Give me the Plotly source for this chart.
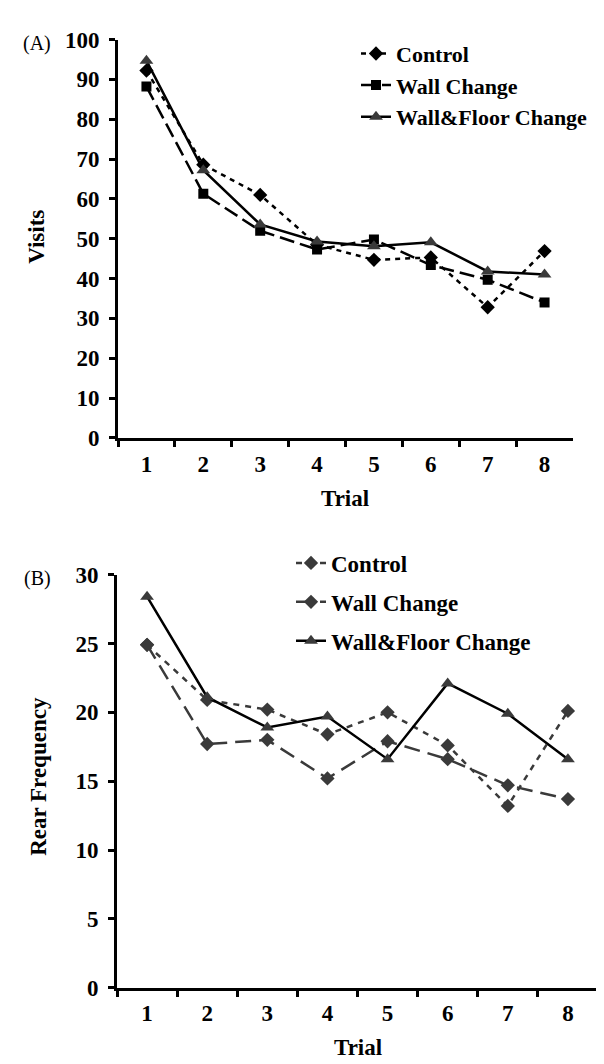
import plotly.graph_objects as go

W, H = 604, 1064

trials = ["1", "2", "3", "4", "5", "6", "7", "8"]

# Panel A: Visits
visits_control = [92.2, 68.6, 61.0, 48.5, 44.7, 45.3, 32.8, 46.9]
visits_wall = [88.2, 61.3, 52.0, 47.3, 49.8, 43.4, 39.7, 34.0]
visits_wallfloor = [94.7, 67.2, 53.6, 49.3, 48.1, 49.1, 41.8, 41.0]

# Panel B: Rear Frequency
rear_control = [24.9, 20.9, 20.2, 18.4, 20.0, 17.6, 13.2, 20.1]
rear_wall = [24.9, 17.7, 18.0, 15.2, 17.9, 16.6, 14.7, 13.7]
rear_wallfloor = [28.4, 21.1, 18.9, 19.7, 16.6, 22.1, 19.9, 16.6]

series_names = ["Control", "Wall Change", "Wall&Floor Change"]
visits_ticks = list(range(0, 101, 10))
rear_ticks = list(range(0, 31, 5))

FONT = "Liberation Serif"


def px_x(p):
    return p / W


def px_y(p):
    return 1 - p / H


fig = go.Figure()

# Panel A traces
fig.add_trace(go.Scatter(
    x=trials, y=visits_control, name=series_names[0], mode="lines+markers",
    line=dict(color="black", width=2.5, dash="5px,5px"),
    marker=dict(symbol="diamond", size=11, color="black"),
    xaxis="x", yaxis="y", legend="legend", legendgroup="a1"))
fig.add_trace(go.Scatter(
    x=trials, y=visits_wall, name=series_names[1], mode="lines+markers",
    line=dict(color="black", width=2.5, dash="15px,6px"),
    marker=dict(symbol="square", size=10, color="black"),
    xaxis="x", yaxis="y", legend="legend", legendgroup="a2"))
fig.add_trace(go.Scatter(
    x=trials, y=visits_wallfloor, name=series_names[2], mode="lines+markers",
    line=dict(color="black", width=2.5),
    marker=dict(symbol="triangle-up", size=12, color="#3a3a3a"),
    xaxis="x", yaxis="y", legend="legend", legendgroup="a3"))

# Panel B traces
fig.add_trace(go.Scatter(
    x=trials, y=rear_control, name=series_names[0], mode="lines+markers",
    line=dict(color="#3a3a3a", width=2.5, dash="6px,6px"),
    marker=dict(symbol="diamond", size=11, color="#3a3a3a"),
    xaxis="x2", yaxis="y2", legend="legend2", legendgroup="b1"))
fig.add_trace(go.Scatter(
    x=trials, y=rear_wall, name=series_names[1], mode="lines+markers",
    line=dict(color="#3a3a3a", width=2.5, dash="16px,8px"),
    marker=dict(symbol="diamond", size=11, color="#3a3a3a"),
    xaxis="x2", yaxis="y2", legend="legend2", legendgroup="b2"))
fig.add_trace(go.Scatter(
    x=trials, y=rear_wallfloor, name=series_names[2], mode="lines+markers",
    line=dict(color="black", width=2.5),
    marker=dict(symbol="triangle-up", size=12, color="#3a3a3a"),
    xaxis="x2", yaxis="y2", legend="legend2", legendgroup="b3"))

tickfont = dict(family=FONT, size=23, color="black", weight="bold")

xcommon = dict(
    type="category", categoryorder="array", categoryarray=trials,
    range=[-0.5, 7.5], tickson="boundaries", ticks="outside", ticklen=6,
    tickwidth=3, tickcolor="black", showline=True, linewidth=3,
    linecolor="black", showgrid=False, zeroline=False, tickfont=tickfont,
    fixedrange=True, ticklabelstandoff=3)
ycommon = dict(
    ticks="outside", ticklen=6, tickwidth=3, tickcolor="black",
    showline=True, linewidth=3, linecolor="black", showgrid=False,
    zeroline=False, tickfont=tickfont, fixedrange=True, ticklabelstandoff=5)

legfont_a = dict(family=FONT, size=22, color="black", weight="bold")
legfont_b = dict(family=FONT, size=23, color="black", weight="bold")

fig.update_layout(
    width=W, height=H, autosize=False,
    margin=dict(l=0, r=0, t=0, b=0),
    paper_bgcolor="white", plot_bgcolor="white",
    xaxis=dict(domain=[px_x(110), px_x(565)], anchor="y", **xcommon),
    yaxis=dict(domain=[px_y(428), px_y(20)], anchor="x", range=[0, 100],
               tickvals=visits_ticks, **ycommon),
    xaxis2=dict(domain=[px_x(109), px_x(590)], anchor="y2", **xcommon),
    yaxis2=dict(domain=[px_y(991), px_y(568)], anchor="x2", range=[0, 30],
                tickvals=rear_ticks, **ycommon),
    legend=dict(x=px_x(348), y=px_y(13), xanchor="left", yanchor="top",
                bgcolor="rgba(0,0,0,0)", tracegroupgap=0, font=legfont_a),
    legend2=dict(x=px_x(283), y=px_y(534), xanchor="left", yanchor="top",
                 bgcolor="rgba(0,0,0,0)", tracegroupgap=6, font=legfont_b),
    showlegend=True,
)

ann_font = dict(family=FONT, size=23, color="black", weight="bold")
common_ann = dict(xref="paper", yref="paper", showarrow=False,
                  xanchor="center", yanchor="middle")
fig.add_annotation(text="Visits", x=px_x(29), y=px_y(222), textangle=-90,
                   font=ann_font, **common_ann)
fig.add_annotation(text="Trial", x=px_x(337), y=px_y(490), font=ann_font,
                   **common_ann)
fig.add_annotation(text="Rear Frequency", x=px_x(31), y=px_y(775),
                   textangle=-90, font=ann_font, **common_ann)
fig.add_annotation(text="Trial", x=px_x(350), y=px_y(1052), font=ann_font,
                   **common_ann)
fig.add_annotation(text="(A)", x=px_x(29), y=px_y(24),
                   font=dict(family=FONT, size=20, color="black"),
                   **common_ann)
fig.add_annotation(text="(B)", x=px_x(29), y=px_y(572),
                   font=dict(family=FONT, size=20, color="black"),
                   **common_ann)

fig.write_html("out.html")
